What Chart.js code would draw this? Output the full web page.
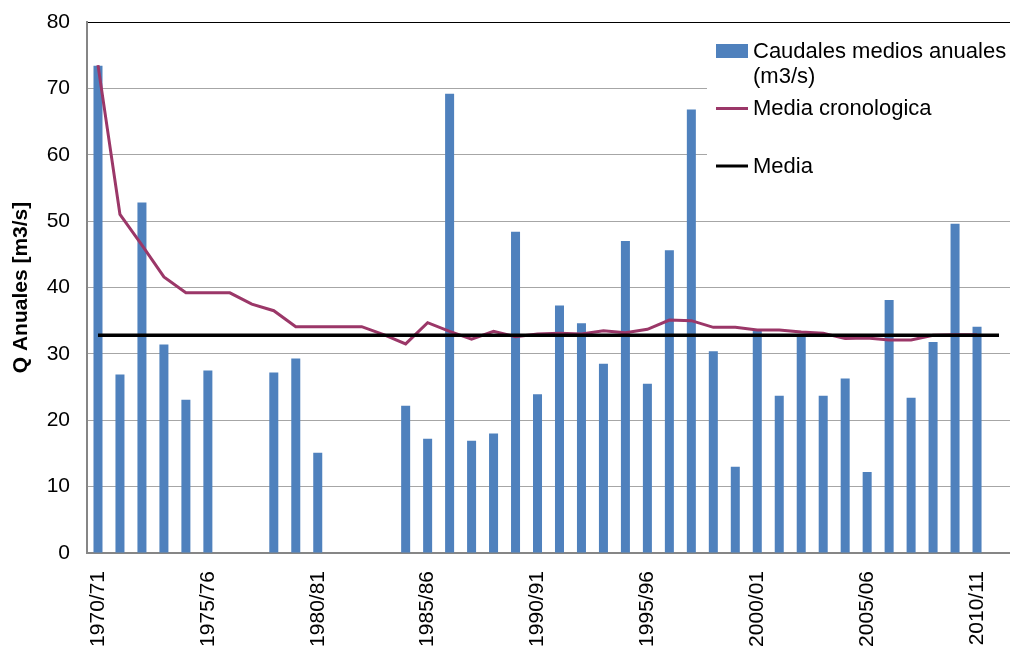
<!DOCTYPE html>
<html>
<head>
<meta charset="utf-8">
<script src="https://cdn.jsdelivr.net/npm/chart.js@4.4.1/dist/chart.umd.min.js"></script>
<style>
  html, body { margin: 0; padding: 0; background: #fff; }
  canvas { display: block; }
</style>
</head>
<body>
<canvas id="myChart" width="1010" height="648"></canvas>
<script>
// hydrological years
const categories = [
    '1970/71', '1971/72', '1972/73', '1973/74', '1974/75', '1975/76', '1976/77', '1977/78',
    '1978/79', '1979/80', '1980/81', '1981/82', '1982/83', '1983/84', '1984/85', '1985/86',
    '1986/87', '1987/88', '1988/89', '1989/90', '1990/91', '1991/92', '1992/93', '1993/94',
    '1994/95', '1995/96', '1996/97', '1997/98', '1998/99', '1999/00', '2000/01', '2001/02',
    '2002/03', '2003/04', '2004/05', '2005/06', '2006/07', '2007/08', '2008/09', '2009/10',
    '2010/11', '2011/12'
];

// annual mean flows (m3/s), null = no data
const caudales = [
    73.4, 26.9, 52.8, 31.4, 23.1, 27.5, null, null,
    27.2, 29.3, 15.1, null, null, null, 22.2, 17.2,
    69.2, 16.9, 18.0, 48.4, 23.9, 37.3, 34.6, 28.5,
    47.0, 25.5, 45.6, 66.8, 30.4, 13.0, 33.7, 23.7,
    33.0, 23.7, 26.3, 12.2, 38.1, 23.4, 31.8, 49.6,
    34.1, null
];

// running mean
const mediaCronologica = [
    73.5, 51.0, 46.4, 41.6, 39.2, 39.2, 39.2, 37.5,
    36.5, 34.1, 34.1, 34.1, 34.1, 32.9, 31.5, 34.7,
    33.4, 32.2, 33.4, 32.6, 33.0, 33.1, 33.0, 33.5,
    33.2, 33.7, 35.1, 35.0, 34.0, 34.0, 33.6, 33.6,
    33.3, 33.1, 32.3, 32.4, 32.1, 32.1, 32.8, 32.9,
    32.9, null
];

const media = 32.8;

const yTicks = [0, 10, 20, 30, 40, 50, 60, 70, 80];

const FONT = "'Liberation Sans', Arial, sans-serif";

// legend drawn by hand (wrapped label, uneven spacing like the original)
const legendPlugin = {
    id: 'sideLegend',
    afterDraw(chart) {
        const ctx = chart.ctx;
        const ds = chart.data.datasets;
        ctx.save();
        ctx.fillStyle = '#fff';
        ctx.fillRect(707, 30, 303, 158);

        ctx.font = '22px ' + FONT;
        ctx.textBaseline = 'middle';
        ctx.textAlign = 'left';

        // bars
        ctx.fillStyle = ds[0].backgroundColor;
        ctx.fillRect(716, 44, 32, 14);
        ctx.fillStyle = '#000';
        ctx.fillText('Caudales medios anuales', 753, 52);
        ctx.fillText('(m3/s)', 753, 77);

        // running mean
        ctx.strokeStyle = ds[1].borderColor;
        ctx.lineWidth = 3;
        ctx.beginPath();
        ctx.moveTo(716, 108.5);
        ctx.lineTo(748, 108.5);
        ctx.stroke();
        ctx.fillText(ds[1].label, 753, 109);

        // mean
        ctx.strokeStyle = ds[2].borderColor;
        ctx.beginPath();
        ctx.moveTo(716, 166);
        ctx.lineTo(748, 166);
        ctx.stroke();
        ctx.fillText(ds[2].label, 753, 167);
        ctx.restore();
    }
};

const ctx = document.getElementById('myChart').getContext('2d');

const myChart = new Chart(ctx, {
    type: 'bar',
    data: {
        labels: categories,
        datasets: [
            {
                type: 'bar',
                label: 'Caudales medios anuales (m3/s)',
                data: caudales,
                backgroundColor: '#4F81BD',
                borderWidth: 0,
                categoryPercentage: 1.0,
                barPercentage: 0.41,
                order: 2
            },
            {
                type: 'line',
                label: 'Media cronologica',
                data: mediaCronologica,
                borderColor: '#9B3768',
                borderWidth: 3,
                pointRadius: 0,
                tension: 0,
                fill: false,
                order: 1
            },
            {
                type: 'line',
                label: 'Media',
                data: categories.map(() => media),
                borderColor: '#000',
                borderWidth: 3.5,
                pointRadius: 0,
                tension: 0,
                fill: false,
                order: 0
            }
        ]
    },
    options: {
        responsive: false,
        animation: false,
        devicePixelRatio: 1,
        layout: { padding: { top: 22, right: 0, left: 0, bottom: 0 } },
        plugins: {
            legend: { display: false },
            tooltip: { enabled: false },
            title: { display: false }
        },
        scales: {
            x: {
                grid: { display: false, drawTicks: false },
                border: { color: '#868686', width: 2 },
                ticks: {
                    autoSkip: false,
                    minRotation: 90,
                    maxRotation: 90,
                    padding: 18,
                    color: '#000',
                    font: { family: FONT, size: 21 },
                    callback: function (val, i) {
                        return i % 5 === 0 ? categories[i] : '';
                    }
                },
                afterFit: (scale) => {
                    scale.height = 95;
                    scale.paddingLeft = 0;
                    scale.paddingRight = 0;
                }
            },
            y: {
                min: 0,
                max: 80,
                afterBuildTicks: (scale) => {
                    scale.ticks = yTicks.map(v => ({ value: v }));
                },
                grid: {
                    drawTicks: false,
                    color: (c) => (c.tick && c.tick.value === 80 ? '#000' : '#A6A6A6'),
                    lineWidth: 1
                },
                border: { color: '#868686', width: 2 },
                ticks: {
                    padding: 17,
                    color: '#000',
                    font: { family: FONT, size: 21 }
                },
                title: {
                    display: true,
                    text: 'Q Anuales [m3/s]',
                    color: '#000',
                    font: { family: FONT, size: 21, weight: 'bold' },
                    padding: { top: 9, bottom: 0 }
                },
                afterFit: (scale) => {
                    scale.width = 87;
                    scale.paddingTop = 0;
                    scale.paddingBottom = 0;
                }
            }
        }
    },
    plugins: [legendPlugin]
});
</script>
</body>
</html>
